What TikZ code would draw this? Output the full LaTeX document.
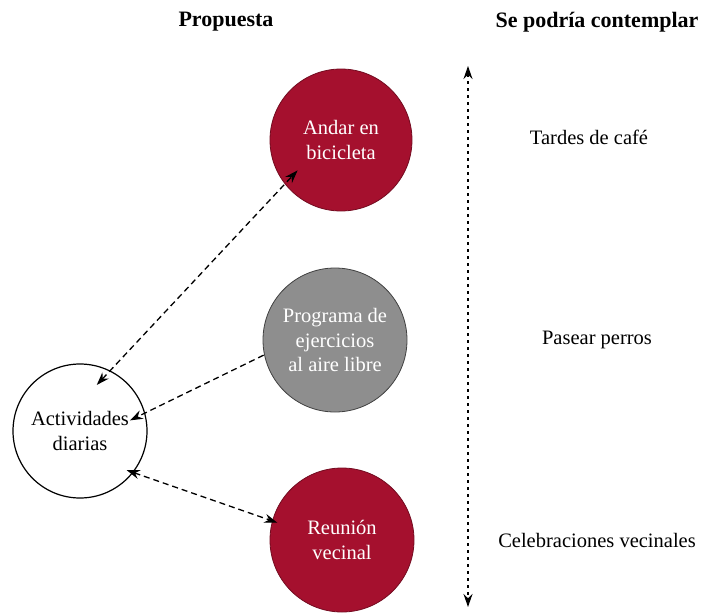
\documentclass[tikz,border=0pt]{standalone}
\usepackage{fontspec}
\setmainfont{Liberation Serif}
\usetikzlibrary{arrows.meta,calc}
\definecolor{wine}{HTML}{A5102E}
\definecolor{midgray}{HTML}{8E8E8E}
\tikzset{
  bubble/.style={circle, minimum size=#1, inner sep=0pt, align=center,
    font=\fontsize{20.5}{24.5}\selectfont},
  redbub/.style={bubble=142pt, fill=wine, draw=wine!70!black, line width=0.8pt, text=white},
  graybub/.style={bubble=144pt, fill=midgray, draw=black!75, line width=0.8pt, text=white},
  whitebub/.style={bubble=134pt, fill=white, draw=black, line width=1.2pt, text=black},
  head/.style={font=\fontsize{22}{25}\selectfont\bfseries},
  side/.style={font=\fontsize{20.5}{24}\selectfont},
  link/.style={line width=1.3pt, dash pattern=on 6pt off 4pt, -{Stealth[length=13pt,width=9pt]}},
  dlink/.style={line width=1.3pt, dash pattern=on 6pt off 4pt, {Stealth[length=13pt,width=9pt]}-{Stealth[length=13pt,width=9pt]}},
  axis/.style={line width=1.3pt, dash pattern=on 3pt off 4pt, {Stealth[length=13pt,width=9pt]}-{Stealth[length=13pt,width=9pt]}}
}
\begin{document}
\begin{tikzpicture}[x=1pt,y=-1pt]
\useasboundingbox (0,0) rectangle (704,613);
\node[head] (h1) at (226,22) {Propuesta};
\node[head] (h2) at (597,22) {Se podría contemplar};

\node[redbub] (bike) at (341,140) {Andar en\\bicicleta};
\node[graybub] (prog) at (335,340) {Programa de\\ejercicios\\al aire libre};
\node[redbub, minimum size=144pt] (reun) at (342,540) {Reunión\\vecinal};
\node[whitebub] (act) at (80,431) {Actividades\\diarias};

\node[side] (t1) at (589,137) {Tardes de café};
\node[side] (t2) at (597,340) {Pasear perros};
\node[side] (t3) at (597,540) {Celebraciones vecinales};

\coordinate (atop) at (468,66);
\coordinate (abot) at (468,607);
\draw[axis] (atop) -- (abot);

\path (act.center) ++(-70:49) coordinate (a1);
\path (bike.center) ++(145:53) coordinate (b1);
\draw[dlink] (a1) -- (b1);

\path (act.center) ++(-12:51) coordinate (a2);
\path (prog.center) ++(168:73) coordinate (p2);
\draw[link] (p2) -- (a2);

\path (act.center) ++(40:61) coordinate (a3);
\path (reun.center) ++(195:67) coordinate (r3);
\draw[dlink] (a3) -- (r3);
\end{tikzpicture}
\end{document}
